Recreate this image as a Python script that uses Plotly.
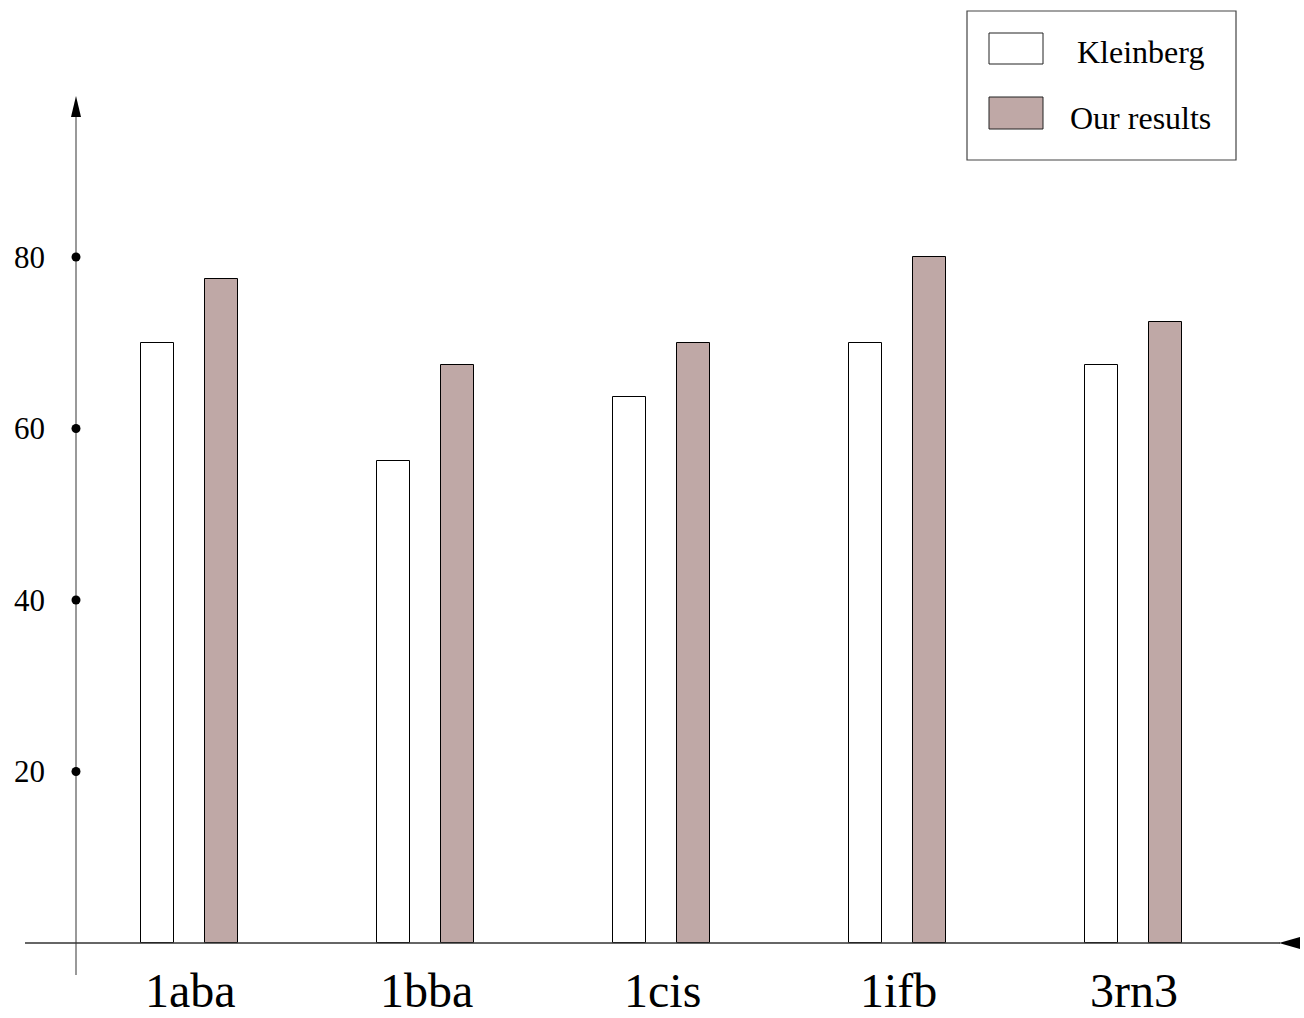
import plotly.graph_objects as go

categories = ["1aba", "1bba", "1cis", "1ifb", "3rn3"]
kleinberg = [70, 56.2, 63.7, 70, 67.4]
our_results = [77.4, 67.4, 70, 80, 72.4]
y_ticks = [20, 40, 60, 80]
series_names = ["Kleinberg", "Our results"]

W, H = 1304, 1018
X0, XS = 190.0, 236.0      # px of category 0, px per category
Y0, YS = 943.0, 8.575      # px of value 0, px per unit

def dx(px):
    return (px - X0) / XS

def dy(py):
    return (Y0 - py) / YS

FILL = "#bfa8a6"
FONT = "Liberation Serif, Times New Roman, serif"
xs = list(range(len(categories)))
bw = 33 / XS

fig = go.Figure()
fig.add_trace(go.Bar(x=xs, y=kleinberg, name=series_names[0], width=bw,
                     offset=dx(141), marker=dict(color="white", line=dict(color="black", width=1))))
fig.add_trace(go.Bar(x=xs, y=our_results, name=series_names[1], width=bw,
                     offset=dx(205), marker=dict(color=FILL, line=dict(color="black", width=1))))
ax_x = dx(76)
fig.add_trace(go.Scatter(x=[ax_x] * len(y_ticks), y=y_ticks, mode="markers",
                         marker=dict(color="black", size=9), showlegend=False, hoverinfo="skip"))

shapes = []
shapes.append(dict(type="line", x0=dx(25), x1=dx(1280), y0=0, y1=0, line=dict(color="#333", width=1.3), layer="above"))
shapes.append(dict(type="path",
                   path=f"M {dx(1279)} {0} L {dx(1300)} {dy(937)} L {dx(1300)} {dy(949)} Z",
                   fillcolor="black", line=dict(color="black", width=0)))
shapes.append(dict(type="line", x0=ax_x, x1=ax_x, y0=dy(975), y1=dy(112), line=dict(color="#777", width=1.5), layer="below"))
shapes.append(dict(type="path",
                   path=f"M {ax_x} {dy(96)} L {dx(71)} {dy(117)} L {dx(81)} {dy(117)} Z",
                   fillcolor="black", line=dict(color="black", width=0)))
shapes.append(dict(type="rect", xref="paper", yref="paper", x0=967 / W, x1=1236 / W,
                   y0=1 - 160 / H, y1=1 - 11 / H, line=dict(color="#444", width=1.2), fillcolor="white"))
shapes.append(dict(type="rect", xref="paper", yref="paper", x0=989 / W, x1=1043 / W,
                   y0=1 - 64 / H, y1=1 - 33 / H, line=dict(color="#222", width=1), fillcolor="white"))
shapes.append(dict(type="rect", xref="paper", yref="paper", x0=989 / W, x1=1043 / W,
                   y0=1 - 129 / H, y1=1 - 97 / H, line=dict(color="#222", width=1), fillcolor=FILL))

annotations = []
for v in y_ticks:
    annotations.append(dict(x=dx(47), y=v, text=str(v), showarrow=False, xanchor="right", yanchor="middle",
                            font=dict(family=FONT, size=31, color="black")))
for i, c in enumerate(categories):
    annotations.append(dict(x=i, y=dy(990), text=c, showarrow=False, xanchor="center", yanchor="middle",
                            font=dict(family=FONT, size=48, color="black")))
annotations.append(dict(xref="paper", yref="paper", x=1140 / W, y=1 - 52 / H, text=series_names[0],
                        showarrow=False, xanchor="center", yanchor="middle",
                        font=dict(family=FONT, size=32, color="black")))
annotations.append(dict(xref="paper", yref="paper", x=1140 / W, y=1 - 118 / H, text=series_names[1],
                        showarrow=False, xanchor="center", yanchor="middle",
                        font=dict(family=FONT, size=32, color="black")))

fig.update_layout(
    width=W, height=H, margin=dict(l=0, r=0, t=0, b=0),
    paper_bgcolor="white", plot_bgcolor="white", showlegend=False,
    xaxis=dict(range=[dx(0), dx(W)], visible=False, fixedrange=True),
    yaxis=dict(range=[dy(H), dy(0)], visible=False, fixedrange=True),
    shapes=shapes, annotations=annotations, bargap=0,
)
fig.write_html("out.html", config={"displayModeBar": False},
               post_script="document.body.style.margin='0';document.body.style.overflow='hidden';")
